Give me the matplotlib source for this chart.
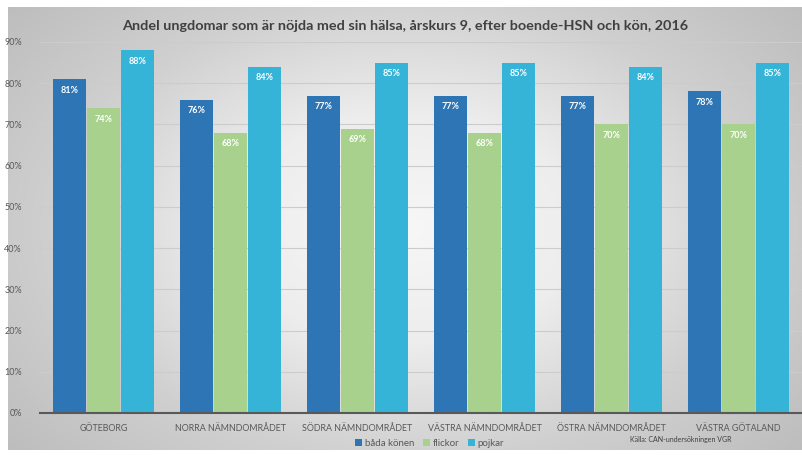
import numpy as np
import matplotlib.pyplot as plt
from matplotlib.ticker import PercentFormatter
from matplotlib.colors import LinearSegmentedColormap

omraden = ['GÖTEBORG', 'NORRA NÄMNDOMRÅDET', 'SÖDRA NÄMNDOMRÅDET',
           'VÄSTRA NÄMNDOMRÅDET', 'ÖSTRA NÄMNDOMRÅDET', 'VÄSTRA GÖTALAND']
bada_konen = [81, 76, 77, 77, 77, 78]
flickor = [74, 68, 69, 68, 70, 70]
pojkar = [88, 84, 85, 85, 84, 85]

serier = [('båda könen', bada_konen, '#2E75B6'),
          ('flickor', flickor, '#A9D18E'),
          ('pojkar', pojkar, '#36B4D8')]

plt.rcParams['font.family'] = 'Lato'

fig = plt.figure(figsize=(8.03, 4.55), dpi=100)
fig.patch.set_facecolor('white')

# bakgrund med radiell gradient, ljus i mitten och grå mot kanterna
bg = fig.add_axes([8/803, 5/455, 795/803, 443/455])
yy, xx = np.mgrid[-1:1:300j, -1:1:500j]
r = np.sqrt((xx/1.05)**2 + (yy/1.25)**2)
grad = LinearSegmentedColormap.from_list('grad', ['#f7f7f7', '#ededed', '#d0d0d0', '#bdbdbd'])
bg.imshow(r, cmap=grad, vmin=0, vmax=1.25, aspect='auto',
          extent=[0, 1, 0, 1], interpolation='bilinear')
bg.set_axis_off()

ax = fig.add_axes([40/803, 42/455, 762/803, 371/455])
ax.patch.set_alpha(0)

x = np.arange(len(omraden))
w = 0.268
for i, (namn, vals, farg) in enumerate(serier):
    pos = x + (i - 1) * w
    ax.bar(pos, vals, w * 0.98, color=farg, label=namn, zorder=3)
    for px, v in zip(pos, vals):
        ax.text(px, v - 1.6, f'{v}%', ha='center', va='top', color='white',
                fontsize=6.5, fontweight='bold', zorder=4)

ax.set_xlim(-0.5, len(omraden) - 0.5)
ax.set_ylim(0, 90)
ax.set_yticks(range(0, 91, 10))
ax.yaxis.set_major_formatter(PercentFormatter(decimals=0))
ax.set_xticks(x)
ax.set_xticklabels(omraden)
ax.tick_params(axis='x', length=0, labelsize=6.4, colors='#595959', pad=8)
ax.tick_params(axis='y', length=0, labelsize=6.5, colors='#595959', pad=13)
ax.grid(axis='y', color='#cccccc', linewidth=0.8, zorder=0)
for s in ['top', 'right', 'left']:
    ax.spines[s].set_visible(False)
ax.spines['bottom'].set_color('#595959')
ax.spines['bottom'].set_linewidth(1.5)
ax.spines['bottom'].set_zorder(5)

fig.text(0.505, 0.943, 'Andel ungdomar som är nöjda med sin hälsa, årskurs 9, efter boende-HSN och kön, 2016',
         ha='center', va='center', fontsize=10.4, fontweight='bold', color='#404040')

fig.legend(loc='center', bbox_to_anchor=(0.535, 0.026), ncol=3, frameon=False,
           fontsize=7, handlelength=0.7, handleheight=0.7, handletextpad=0.3,
           columnspacing=0.9, labelcolor='#595959')

fig.text(0.785, 0.033, 'Källa: CAN-undersökningen VGR', ha='left', va='center',
         fontsize=5, color='#404040')

fig.savefig('out.png', dpi=100)
